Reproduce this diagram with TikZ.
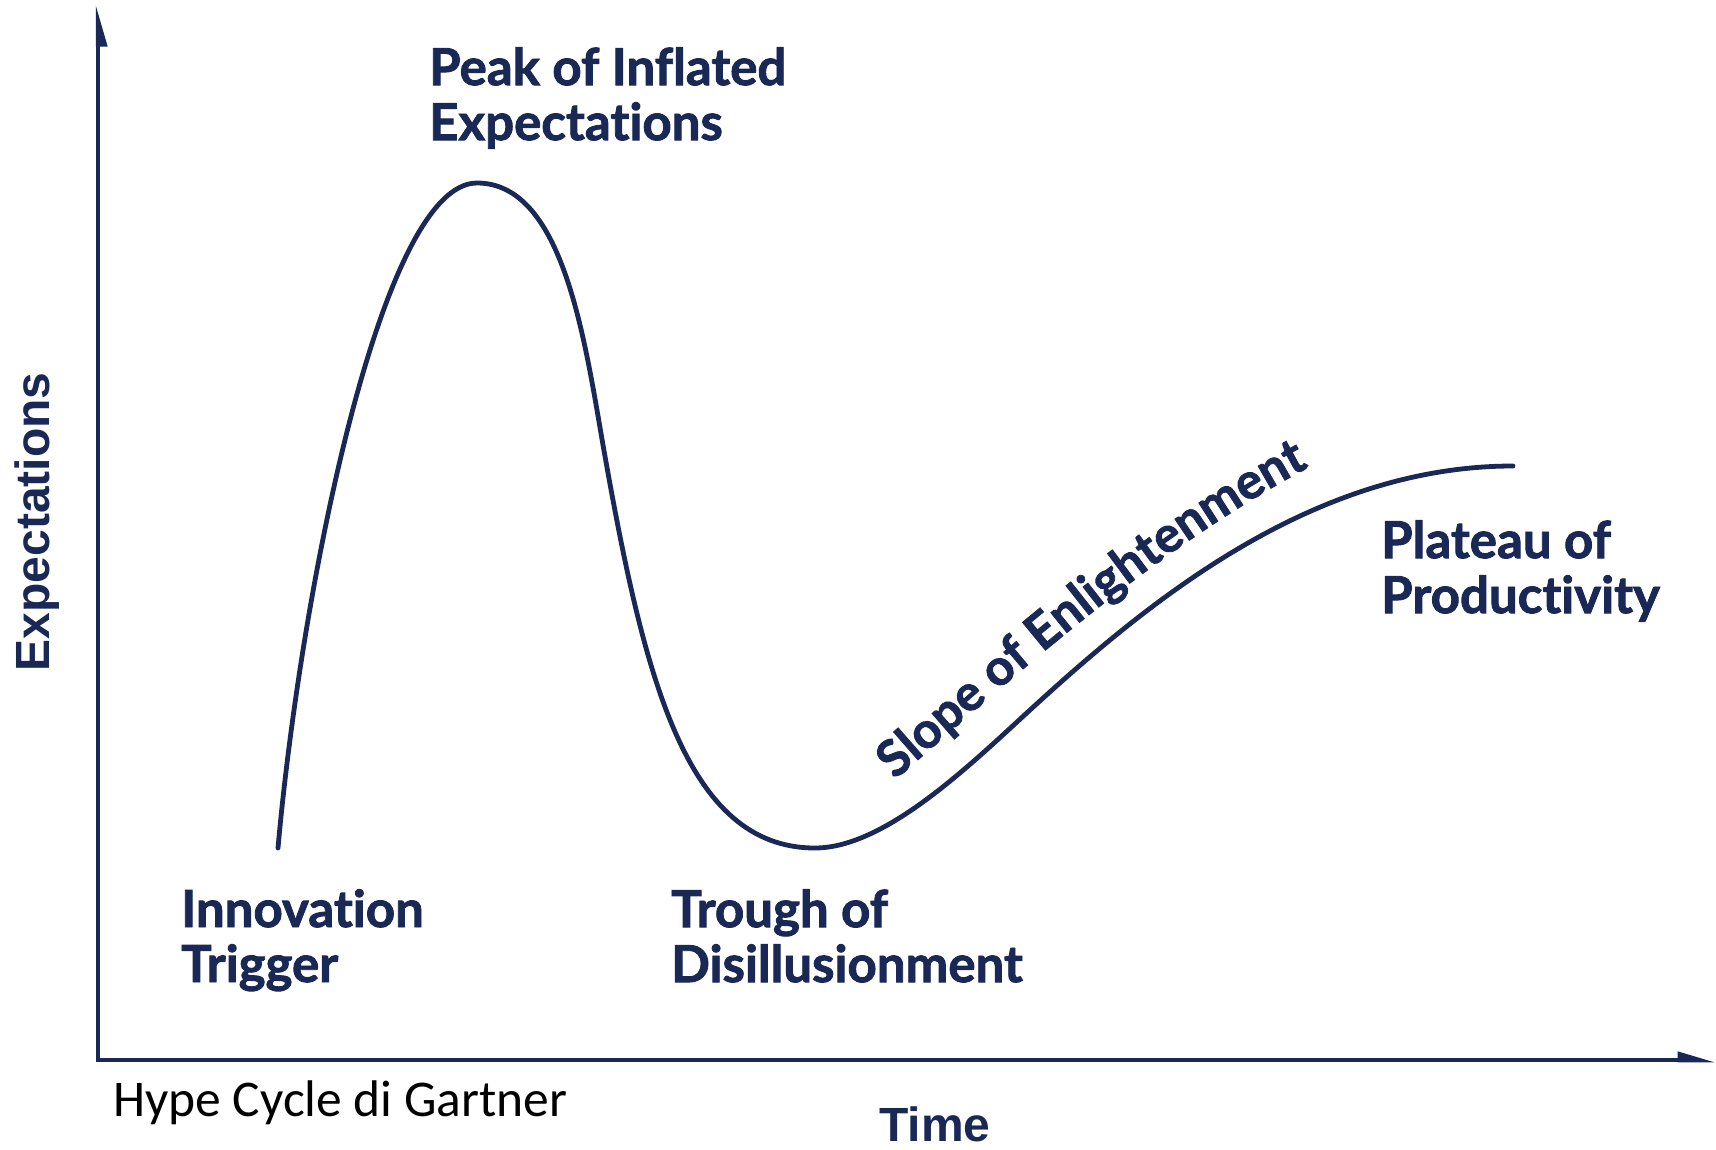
\documentclass[tikz,border=0pt]{standalone}
\usepackage{fontspec}
\setmainfont{Lato}
\newfontfamily\labelfont{Lato}[Ligatures=NoCommon, BoldFeatures={FakeBold=1.7}]
\newfontfamily\axisfont{Liberation Sans}
\newfontfamily\capfont{Carlito}
\usetikzlibrary{arrows.meta,decorations.text}
\definecolor{navy}{RGB}{26,40,86}
\newcommand{\slopefont}{\labelfont\bfseries\fontsize{50}{55}\selectfont\color{navy}}
\begin{document}
\begin{tikzpicture}[x=1pt,y=-1pt,
  axisline/.style={draw=navy, line width=4.5pt},
  curveline/.style={draw=navy, line width=4.8pt, line cap=round},
  lbl/.style={anchor=north west, inner sep=0pt, align=left, text=navy,
    font=\labelfont\bfseries\fontsize{51}{55}\selectfont},
  axislbl/.style={inner sep=0pt, text=navy, font=\axisfont\bfseries\fontsize{48}{52}\selectfont},
  caption/.style={anchor=base west, inner sep=0pt, text=black, font=\capfont\fontsize{51.5}{56}\selectfont}]
\useasboundingbox (0,0) rectangle (1716,1149);
\fill[white] (0,0) rectangle (1716,1149);

% axes
\coordinate (O) at (98,1060);
\coordinate (ytop) at (98,4);
\coordinate (xend) at (1716,1060);
\draw[axisline, -{Triangle[harpoon,swap,length=34pt,width=18pt]}] (O) -- (ytop);
\draw[axisline, line cap=rect, -{Triangle[harpoon,length=30pt,width=16pt]}] (O) -- (xend);

% hype curve
\coordinate (start) at (278,848);
\coordinate (peak0) at (477,183);
\coordinate (infl1) at (603,445);
\coordinate (trough0) at (815,848);
\coordinate (infl2) at (1030,710);
\coordinate (plat0) at (1513,466);
\draw[curveline] (start)
  .. controls (300,600) and (380,183) .. (peak0)
  .. controls (562,183) and (584,335) .. (infl1)
  .. controls (643.5,675) and (685,848) .. (trough0)
  .. controls (885,848) and (970,765) .. (infl2)
  .. controls (1150,600) and (1313,466) .. (plat0);

% labels
\node[lbl] (peak) at (429,47) {Peak of Inflated\\Expectations};
\node[lbl] (trigger) at (181,889) {Innovation\\Trigger};
\node[lbl] (trough) at (671,889) {Trough of\\Disillusionment};
\node[lbl] (plateau) at (1381,520) {Plateau of\\Productivity};

\path[decorate, decoration={text along path, text align=left,
  text format delimiters={|}{|},
  text={|\slopefont|Slope of Enlightenment}}]
  (895,780) .. controls (1030,662) and (1165,540) .. (1330,456);

\node[axislbl, rotate=90] (ylabel) at (37,522) {Expectations};
\node[axislbl, anchor=base west] (xlabel) at (879,1141) {Time};
\node[caption] (cap) at (113,1116) {Hype Cycle di Gartner};
\end{tikzpicture}
\end{document}
